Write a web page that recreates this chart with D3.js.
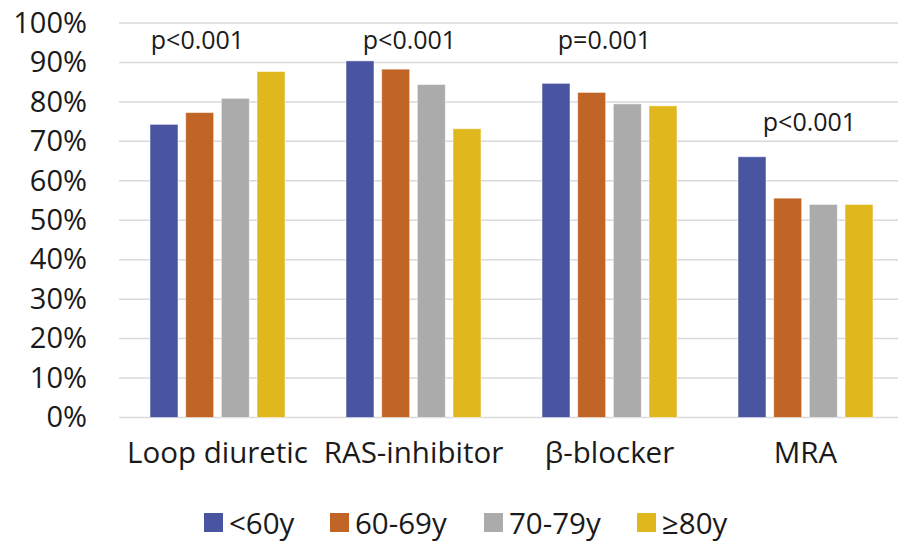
<!DOCTYPE html>
<html>
<head>
<meta charset="utf-8">
<script src="https://cdn.jsdelivr.net/npm/d3@7"></script>
<style>
  body { margin: 0; background: #fff; }
  text { font-family: "Open Sans", sans-serif; fill: #1a1a1a; }
</style>
</head>
<body>
<script>
// data
var categories = ["Loop diuretic", "RAS-inhibitor", "β-blocker", "MRA"];
var series = ["<60y", "60-69y", "70-79y", "≥80y"];
var under60 = [74.3, 90.4, 84.7, 66.1];
var from60to69 = [77.3, 88.3, 82.4, 55.6];
var from70to79 = [80.9, 84.4, 79.5, 54.0];
var over80 = [87.7, 73.2, 79.0, 54.0];
var pLabels = ["p<0.001", "p<0.001", "p=0.001", "p<0.001"];
var yTicks = [0, 10, 20, 30, 40, 50, 60, 70, 80, 90, 100];

var colors = ["#4a55a2", "#c06526", "#ababab", "#e0b81e"];
var values = [under60, from60to69, from70to79, over80];

var width = 898, height = 544;

var svg = d3.select("body").append("svg")
  .attr("width", width)
  .attr("height", height);

var y = d3.scaleLinear().domain([0, 100]).range([417.5, 23]);

var x0 = d3.scaleBand()
  .domain(categories)
  .range([119.5, 903.5])
  .padding(0);

var x1 = d3.scaleBand()
  .domain(series)
  .range([30.5, x0.bandwidth() - 30.5])
  .paddingInner(0.215);

// gridlines
svg.append("g").selectAll("line")
  .data(yTicks)
  .enter().append("line")
  .attr("x1", 119)
  .attr("x2", width)
  .attr("y1", function(d) { return y(d); })
  .attr("y2", function(d) { return y(d); })
  .style("stroke", "#d9d9d9")
  .style("stroke-width", 1.5);

// y axis labels
var yAxis = d3.axisLeft(y).tickValues(yTicks).tickSize(0).tickPadding(0)
  .tickFormat(function(d) { return d + "%"; });
var ya = svg.append("g").attr("transform", "translate(87,0)").call(yAxis);
ya.select(".domain").remove();
ya.selectAll("text")
  .style("font-family", "'Open Sans', sans-serif")
  .style("font-size", "29px")
  .style("fill", "#1a1a1a");

// bars
var groups = svg.append("g").selectAll("g")
  .data(categories)
  .enter().append("g")
  .attr("transform", function(d) { return "translate(" + x0(d) + ",0)"; });

groups.selectAll("rect")
  .data(function(d, ci) {
    return series.map(function(s, si) { return { s: s, v: values[si][ci], c: colors[si] }; });
  })
  .enter().append("rect")
  .attr("x", function(d) { return x1(d.s); })
  .attr("width", x1.bandwidth())
  .attr("y", function(d) { return y(d.v); })
  .attr("height", function(d) { return y(0) - y(d.v); })
  .style("fill", function(d) { return d.c; })
  .style("stroke", "#ffffff")
  .style("stroke-opacity", 0.5)
  .style("stroke-width", 1);

// p-values
var pLevel = [93.3, 93.3, 93.3, 72.5];
var pShift = [-20, -4, -5, 4];
svg.append("g").selectAll("text")
  .data(pLabels)
  .enter().append("text")
  .attr("x", function(d, i) { return x0(categories[i]) + x0.bandwidth() / 2 + pShift[i]; })
  .attr("y", function(d, i) { return y(pLevel[i]); })
  .attr("text-anchor", "middle")
  .style("font-size", "25px")
  .text(function(d) { return d; });

// category labels
var xAxis = d3.axisBottom(x0).tickSize(0).tickPadding(0);
var xa = svg.append("g").attr("transform", "translate(0,442)").call(xAxis);
xa.select(".domain").remove();
xa.selectAll("text")
  .style("font-family", "'Open Sans', sans-serif")
  .style("font-size", "29.5px")
  .style("fill", "#1a1a1a");

// legend
var legendX = [204, 330, 484, 637];
var legend = svg.append("g").selectAll("g")
  .data(series)
  .enter().append("g")
  .attr("transform", function(d, i) { return "translate(" + legendX[i] + ",513)"; });
legend.append("rect")
  .attr("width", 19)
  .attr("height", 19)
  .style("fill", function(d, i) { return colors[i]; });
legend.append("text")
  .attr("x", 25)
  .attr("y", 21)
  .style("font-size", "29.5px")
  .text(function(d) { return d; });
</script>
</body>
</html>
